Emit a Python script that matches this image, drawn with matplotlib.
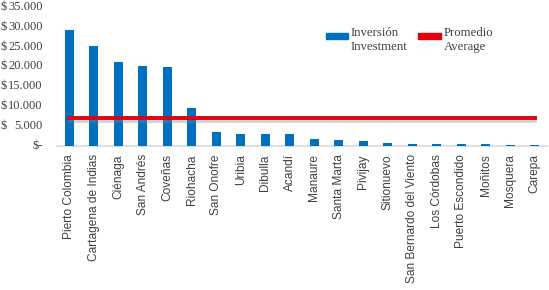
import numpy as np
import matplotlib.pyplot as plt
import matplotlib.patheffects as pe
from matplotlib.patches import Rectangle

# datos (millones de pesos)
municipios = ['Pierto Colombia', 'Cartagena de Indias', 'Ciénaga', 'San Andrés',
              'Coveñas', 'Riohacha', 'San Onofre', 'Uribia', 'Dibulla', 'Acandí',
              'Manaure', 'Santa Marta', 'Pivijay', 'Sitionuevo',
              'San Bernardo del Viento', 'Los Córdobas', 'Puerto Escondido',
              'Moñitos', 'Mosquera', 'Carepa']
inversion = [29200, 25200, 21200, 20200, 19800, 9500, 3450, 3000, 3000, 3000,
             1700, 1450, 1200, 700, 400, 400, 400, 400, 250, 250]
promedio = 7100
yticks = [0, 5000, 10000, 15000, 20000, 25000, 30000, 35000]

azul = '#0070C0'
rojo = '#E3000F'
gris_txt = '#404040'

fig = plt.figure(figsize=(5.49, 2.90), dpi=100)
ax = fig.add_axes([0.104, 0.497, 0.892, 0.479])

x = np.arange(len(municipios))
ax.bar(x, inversion, width=0.37, color=azul, zorder=3)
ax.plot(x, [promedio] * len(x), color=rojo, lw=2.8, zorder=4,
        path_effects=[pe.SimpleLineShadow(offset=(0.5, -2.5), shadow_color='#808080', alpha=0.35),
                      pe.Normal()])

ax.set_xlim(-0.5, len(x) - 0.5)
ax.set_ylim(0, 35000)

for s in ['top', 'right', 'left']:
    ax.spines[s].set_visible(False)
ax.spines['bottom'].set_color('#D9D9D9')
ax.spines['bottom'].set_linewidth(1.2)
ax.spines['bottom'].set_zorder(1)

ax.set_xticks(x)
ax.set_xticklabels(municipios, rotation=90, fontsize=8.6, color=gris_txt,
                   family='Liberation Sans')
ax.tick_params(axis='x', length=0, pad=6)

# eje y en formato contable: "$" a la izquierda, numero a la derecha
ax.set_yticks(yticks)
ax.set_yticklabels([])
ax.tick_params(axis='y', length=0)
tr = ax.get_yaxis_transform()
for v in yticks:
    if v == 0:
        ax.text(-0.029, v, '$-', transform=tr, ha='right', va='center',
                fontsize=9, color=gris_txt, family='Liberation Serif')
    else:
        ax.text(-0.116, v, '$', transform=tr, ha='left', va='center',
                fontsize=9, color=gris_txt, family='Liberation Serif')
        ax.text(-0.029, v, f'{v:,}'.replace(',', '.'), transform=tr, ha='right',
                va='center', fontsize=9, color=gris_txt, family='Liberation Serif')

# leyenda manual (marca alineada con la primera linea)
ax.add_patch(Rectangle((0.5485, 0.77), 0.045, 0.042, transform=ax.transAxes,
                       color=azul, clip_on=False))
ax.text(0.600, 0.855, 'Inversión\nInvestment', transform=ax.transAxes, ha='left',
        va='top', fontsize=9.2, color=gris_txt, family='Liberation Serif', linespacing=1.2)
ax.add_patch(Rectangle((0.737, 0.77), 0.047, 0.042, transform=ax.transAxes,
                       color=rojo, clip_on=False))
ax.text(0.790, 0.855, 'Promedio\nAverage', transform=ax.transAxes, ha='left',
        va='top', fontsize=9.2, color=gris_txt, family='Liberation Serif', linespacing=1.2)

fig.savefig('out.png', dpi=100)
